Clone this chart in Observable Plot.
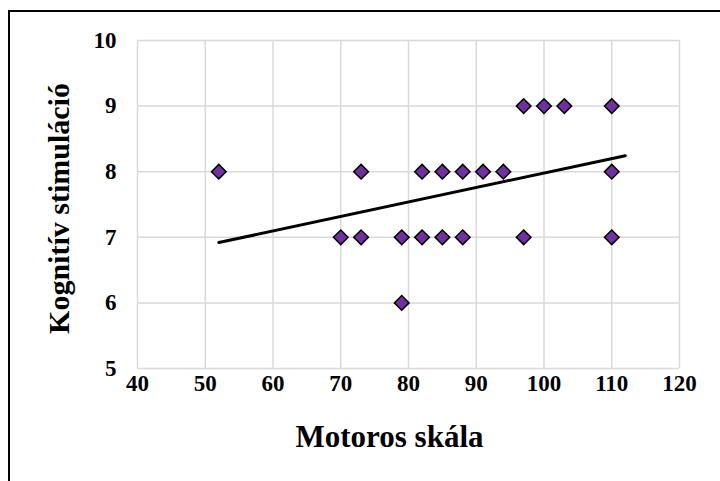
<!DOCTYPE html>
<html><head><meta charset="utf-8">
<script src="https://cdn.jsdelivr.net/npm/d3@7"></script>
<script src="https://cdn.jsdelivr.net/npm/@observablehq/plot@0.6"></script>
<style>
html,body{margin:0;padding:0;background:#fff;}
#wrap{position:relative;width:720px;height:481px;overflow:hidden;}
#frame{position:absolute;left:8px;top:10px;width:800px;height:600px;border-left:2px solid #000;border-top:2px solid #000;box-sizing:border-box;}
#chart{position:absolute;left:0;top:0;}
#chart svg, #chart svg text{font-family:"Liberation Serif","Times New Roman",serif !important;}
</style>
</head><body>
<div id="wrap"><div id="frame"></div><div id="chart"></div></div>
<script>
const motoros = [52,73,82,85,88,91,94,110, 70,73,79,82,85,88,97,110, 79, 97,100,103,110];
const kognitiv = [8,8,8,8,8,8,8,8, 7,7,7,7,7,7,7,7, 6, 9,9,9,9];
const xTicks = [40,50,60,70,80,90,100,110,120];
const yTicks = [5,6,7,8,9,10];
const trendForward = 2;

const pts = motoros.map((x,i)=>({x, y:kognitiv[i]}));
const mx = d3.mean(motoros), my = d3.mean(kognitiv);
const slope = d3.sum(pts,d=>(d.x-mx)*(d.y-my)) / d3.sum(pts,d=>(d.x-mx)**2);
const icpt = my - slope*mx;
const x0 = d3.min(motoros), x1 = d3.max(motoros) + trendForward;
const trend = [{x:x0,y:icpt+slope*x0},{x:x1,y:icpt+slope*x1}];

const font = "Liberation Serif";
const chart = Plot.plot({
  width:720, height:481,
  marginLeft:137, marginRight:41, marginTop:40, marginBottom:113,
  style:{fontFamily:font, fontSize:"23px", fontWeight:"bold", color:"#000", background:"transparent"},
  x:{domain:[40,120], ticks:xTicks, label:null},
  y:{domain:[5,10], ticks:yTicks, label:null},
  marks:[
    Plot.gridX(xTicks,{stroke:"#d9d9d9", strokeOpacity:1, strokeWidth:1.5}),
    Plot.gridY(yTicks,{stroke:"#d9d9d9", strokeOpacity:1, strokeWidth:1.5}),
    Plot.axisX(xTicks,{tickSize:0, tickPadding:6, fontSize:23, fontWeight:"bold", fontFamily:font, fill:"#000", tickFormat:"d", label:null}),
    Plot.axisY(yTicks,{tickSize:0, tickPadding:21, fontSize:23, fontWeight:"bold", fontFamily:font, fill:"#000", tickFormat:"d", label:null}),
    Plot.dot(pts,{x:"x", y:"y", symbol:"diamond2", r:6.6, fill:"#7030a0", stroke:"#000", strokeWidth:1.5}),
    Plot.line(trend,{x:"x", y:"y", stroke:"#000", strokeWidth:3}),
    Plot.text(["Motoros skála"],{frameAnchor:"bottom", textAnchor:"middle", dx:-19, dy:78, fontSize:31, fontWeight:"bold", fontFamily:font, fill:"#000"}),
    Plot.text(["Kognitív stimuláció"],{frameAnchor:"left", textAnchor:"middle", dx:-78, dy:4, rotate:-90, fontSize:30, fontWeight:"bold", fontFamily:font, fill:"#000"})
  ]
});
document.getElementById("chart").appendChild(chart);
</script>
</body></html>
